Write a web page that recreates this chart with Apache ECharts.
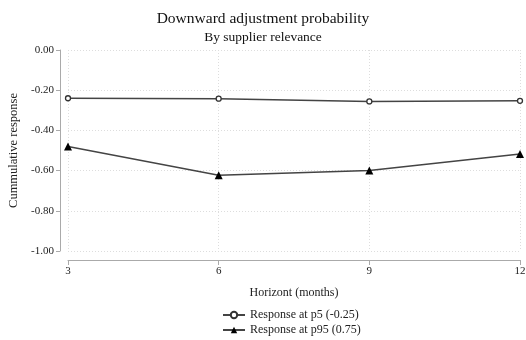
<!DOCTYPE html>
<html><head><meta charset="utf-8">
<script src="https://cdn.jsdelivr.net/npm/echarts@6/dist/echarts.min.js"></script>
<style>html,body{margin:0;padding:0;background:#fff}#c{width:526px;height:340px}</style>
</head><body><div id="c"></div>
<script>
const horizons = [3, 6, 9, 12];
const p5 = [-0.24, -0.242, -0.256, -0.253];
const p5Lo = [-0.252, -0.254, -0.268, -0.265];
const p5Hi = [-0.228, -0.230, -0.244, -0.241];
const p95 = [-0.48, -0.623, -0.60, -0.518];
const p95Lo = [-0.492, -0.635, -0.612, -0.530];
const p95Hi = [-0.468, -0.611, -0.588, -0.506];

const font = '"Liberation Serif", "DejaVu Serif", serif';
const pairs = (ys) => horizons.map((h, i) => [h, ys[i]]);
function band(lo, hi, id){
  return [
    {type:'line', data: pairs(lo), stack: id, symbol:'none', lineStyle:{opacity:0}, silent:true, z:1},
    {type:'line', data: horizons.map((h,i)=>[h, hi[i]-lo[i]]), stack: id, symbol:'none', lineStyle:{opacity:0}, areaStyle:{color:'#ececec', opacity:1}, silent:true, z:1}
  ];
}
const chart = echarts.init(document.getElementById('c'));
chart.setOption({
  animation:false,
  title:[{text:'Downward adjustment probability', left:'center', top:6, textStyle:{fontFamily:font, fontWeight:'normal', fontSize:15.5, color:'#111'}},
         {text:'By supplier relevance', left:'center', top:25, textStyle:{fontFamily:font, fontWeight:'normal', fontSize:13.5, color:'#111'}}],
  grid:{left:68, right:6, top:50, bottom:89, outerBoundsMode:'none', containLabel:false},
  xAxis:{type:'value', min:3, max:12, interval:3, offset:9,
    name:'Horizont (months)', nameLocation:'middle', nameGap:27,
    nameTextStyle:{fontFamily:font, fontSize:12, color:'#222'},
    axisLine:{onZero:false, lineStyle:{color:'#aaa'}}, axisTick:{length:5, lineStyle:{color:'#aaa'}},
    axisLabel:{fontFamily:font, fontSize:11, color:'#222', margin:6},
    splitLine:{show:true, lineStyle:{color:'#ddd', type:[1,2]}}},
  yAxis:{type:'value', min:-1, max:0, interval:0.2, offset:8,
    name:'Cummulative response', nameLocation:'middle', nameGap:40, nameRotate:90,
    nameTextStyle:{fontFamily:font, fontSize:12.5, color:'#222'},
    axisLine:{show:true, onZero:false, lineStyle:{color:'#aaa'}}, axisTick:{show:true, length:4, lineStyle:{color:'#aaa'}},
    axisLabel:{fontFamily:font, fontSize:11, color:'#222', margin:6, formatter:v=>v.toFixed(2)},
    splitLine:{show:true, lineStyle:{color:'#ddd', type:[1,2]}}},
  legend:{orient:'vertical', left:222, top:309, height:60, padding:0, itemGap:3, itemWidth:22, itemHeight:8,
    textStyle:{fontFamily:font, fontSize:12, color:'#222'},
    data:['Response at p5 (-0.25)','Response at p95 (0.75)']},
  series:[
    ...band(p5Lo, p5Hi, 'b1'),
    ...band(p95Lo, p95Hi, 'b2'),
    {name:'Response at p5 (-0.25)', type:'line', data:pairs(p5), symbol:'circle', symbolSize:5,
      itemStyle:{color:'#fff', borderColor:'#333', borderWidth:1.3}, lineStyle:{color:'#444', width:1.5}, z:3},
    {name:'Response at p95 (0.75)', type:'line', data:pairs(p95), symbol:'triangle', symbolSize:8,
      itemStyle:{color:'#000'}, lineStyle:{color:'#444', width:1.5}, z:3}
  ]
});
</script></body></html>
